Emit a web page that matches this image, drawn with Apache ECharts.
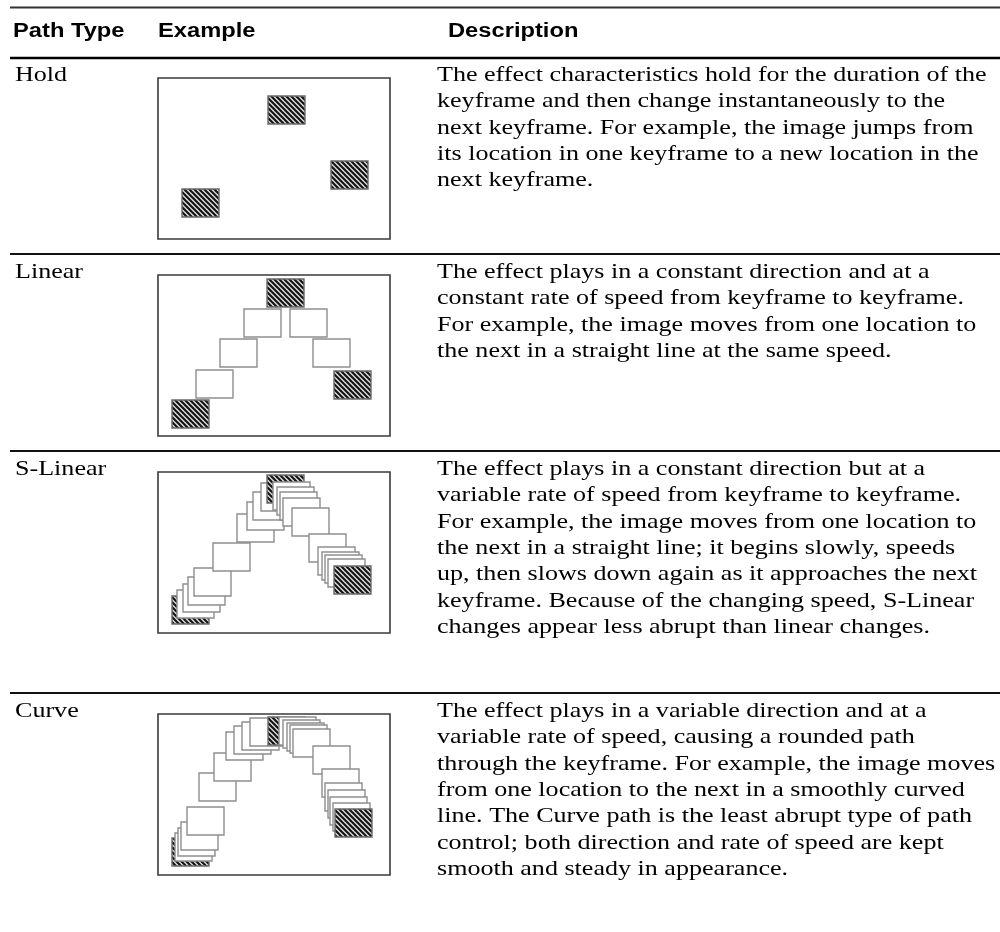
<!DOCTYPE html>
<html>
<head>
<meta charset="utf-8">
<script src="https://cdn.jsdelivr.net/npm/echarts@6/dist/echarts.min.js"></script>
<style>html,body{margin:0;padding:0;background:#fff}#c{width:1000px;height:932px}</style>
</head>
<body>
<div id="c"></div>
<script>
// ---------- DATA ----------
const headers = ['Path Type', 'Example', 'Description'];
const pathTypes = ['Hold', 'Linear', 'S-Linear', 'Curve'];
const descHold = [
  'The effect characteristics hold for the duration of the',
  'keyframe and then change instantaneously to the',
  'next keyframe. For example, the image jumps from',
  'its location in one keyframe to a new location in the',
  'next keyframe.'
];
const descLinear = [
  'The effect plays in a constant direction and at a',
  'constant rate of speed from keyframe to keyframe.',
  'For example, the image moves from one location to',
  'the next in a straight line at the same speed.'
];
const descSLinear = [
  'The effect plays in a constant direction but at a',
  'variable rate of speed from keyframe to keyframe.',
  'For example, the image moves from one location to',
  'the next in a straight line; it begins slowly, speeds',
  'up, then slows down again as it approaches the next',
  'keyframe. Because of the changing speed, S-Linear',
  'changes appear less abrupt than linear changes.'
];
const descCurve = [
  'The effect plays in a variable direction and at a',
  'variable rate of speed, causing a rounded path',
  'through the keyframe. For example, the image moves',
  'from one location to the next in a smoothly curved',
  'line. The Curve path is the least abrupt type of path',
  'control; both direction and rate of speed are kept',
  'smooth and steady in appearance.'
];
// example frames: [x, y, hatched] in frame units (x right, y down)
const holdRects = [[110, 18, 1], [173, 83, 1], [24, 111, 1]];
const linearRects = [
  [14, 125, 1], [38, 95, 0], [62, 64, 0], [86, 34, 0], [109, 4, 1],
  [132, 34, 0], [155, 64, 0], [176, 96, 1]
];
const sLinearRects = [
  [14, 124, 1], [19, 118, 0], [25, 112, 0], [30, 105, 0], [36, 96, 0],
  [55, 71, 0], [79, 42, 0], [89, 30, 0], [95, 20, 0], [103, 11, 0],
  [109, 3, 1],
  [115, 10, 0], [119, 15, 0], [122, 20, 0], [125, 26, 0], [134, 36, 0],
  [151, 62, 0], [160, 75, 0], [164, 80, 0], [167, 83, 0], [170, 87, 0],
  [176, 94, 1]
];
const curveRects = [
  [14, 124, 1], [17, 119, 0], [20, 114, 0], [23, 108, 0], [29, 93, 0],
  [41, 59, 0], [56, 39, 0], [68, 18, 0], [76, 12, 0], [84, 8, 0], [92, 4, 0],
  [110, 3, 1],
  [121, 3, 0], [125, 6, 0], [129, 9, 0], [132, 11, 0], [135, 15, 0],
  [155, 32, 0], [164, 55, 0], [167, 69, 0], [170, 76, 0], [172, 83, 0], [175, 89, 0],
  [177, 95, 1]
];

// ---------- LAYOUT / STYLE ----------
const FRAME_W = 232, FRAME_H = 161, RECT_W = 37, RECT_H = 28;
const rowTops = [57, 254, 451, 693];
const rowDescs = [descHold, descLinear, descSLinear, descCurve];
const rowRects = [holdRects, linearRects, sLinearRects, curveRects];
const LINE_H = 26.4;
const SERIF = '22px "Liberation Serif", "Times New Roman", serif';
const SANS_B = 'bold 20px "Liberation Sans", Arial, sans-serif';
const STRETCH = 1.185;

function makeHatch() {
  const c = document.createElement('canvas');
  c.width = 5; c.height = 5;
  const g = c.getContext('2d');
  g.fillStyle = '#d8d8d8'; g.fillRect(0, 0, 5, 5);
  g.strokeStyle = '#111'; g.lineWidth = 2;
  g.beginPath();
  g.moveTo(-1, -1); g.lineTo(6, 6);
  g.moveTo(-1, 4); g.lineTo(1, 6);
  g.moveTo(4, -1); g.lineTo(6, 1);
  g.stroke();
  return c;
}
const hatch = { image: makeHatch(), repeat: 'repeat' };

const chart = echarts.init(document.getElementById('c'), null, { renderer: 'canvas' });

const grids = [], xAxes = [], yAxes = [], series = [];
rowTops.forEach((top, i) => {
  grids.push({ left: 158, top: top + 21, width: FRAME_W, height: FRAME_H, show: true,
    borderColor: '#3a3a3a', borderWidth: 1.6, backgroundColor: '#fff', containLabel: false });
  xAxes.push({ gridIndex: i, type: 'value', min: 0, max: FRAME_W, show: false });
  yAxes.push({ gridIndex: i, type: 'value', min: 0, max: FRAME_H, inverse: true, show: false });
  series.push({
    type: 'custom', xAxisIndex: i, yAxisIndex: i, data: rowRects[i], animation: false,
    renderItem: function (params, api) {
      const p = api.coord([api.value(0), api.value(1)]);
      const s = api.size([RECT_W, RECT_H]);
      const h = api.value(2);
      return { type: 'rect', shape: { x: p[0], y: p[1], width: s[0], height: s[1] },
        style: { fill: h ? hatch : '#fff', stroke: h ? '#6a6a6a' : '#8e8e8e', lineWidth: 1.4 } };
    }
  });
});

const graphic = [];
function hline(y, w, color) {
  graphic.push({ type: 'line', shape: { x1: 10, y1: y, x2: 1000, y2: y }, style: { stroke: color, lineWidth: w }, z: 10 });
}
hline(7.5, 2, '#333');
hline(58, 2.4, '#000');
rowTops.slice(1).forEach(y => hline(y, 2, '#111'));

function text(x, y, t, font) {
  graphic.push({ type: 'text', x: x, y: y, scaleX: STRETCH,
    style: { text: t, font: font, fill: '#000', align: 'left', verticalAlign: 'middle' } });
}
const headerX = [13, 158, 448];
headers.forEach((t, i) => text(headerX[i], 31, t, SANS_B));

rowTops.forEach((top, i) => {
  text(15, top + 18, pathTypes[i], SERIF);
  rowDescs[i].forEach((line, k) => text(437, top + 18 + k * LINE_H, line, SERIF));
});

chart.setOption({
  animation: false,
  backgroundColor: '#fff',
  grid: grids, xAxis: xAxes, yAxis: yAxes, series: series, graphic: graphic
});
</script>
</body>
</html>
